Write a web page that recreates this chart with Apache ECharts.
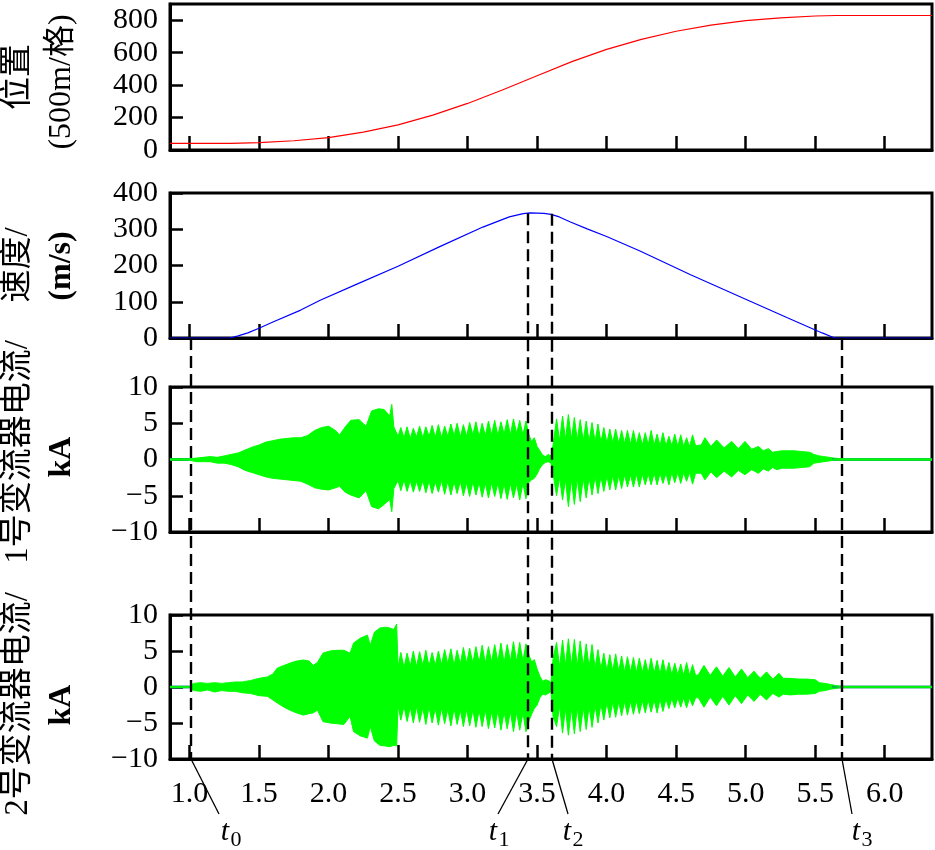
<!DOCTYPE html>
<html><head><meta charset="utf-8">
<script src="https://cdn.jsdelivr.net/npm/echarts@6/dist/echarts.min.js"></script>
<style>html,body{margin:0;padding:0;background:#fff}#c{width:935px;height:850px}</style>
</head><body><div id="c"></div>
<script>
// ---------- data ----------
const xTicks = [1.0, 1.5, 2.0, 2.5, 3.0, 3.5, 4.0, 4.5, 5.0, 5.5, 6.0];
const posTicks = [0, 200, 400, 600, 800];

const posT = [0.86, 1.30, 1.50, 1.75, 2.00, 2.25, 2.50, 2.75, 3.00, 3.25, 3.50, 3.75, 4.00, 4.25, 4.50, 4.75, 5.00, 5.25, 5.50, 5.65, 6.34];
const posV = [41, 41, 45, 57, 76, 110, 155, 215, 287, 370, 458, 545, 620, 682, 732, 770, 797, 815, 826, 829, 829];

const velT = [0.86, 1.29, 1.35, 1.42, 1.50, 1.60, 1.80, 1.94, 2.20, 2.50, 2.80, 3.11, 3.30, 3.40, 3.45, 3.55, 3.60, 3.66, 3.74, 3.86, 4.00, 4.24, 4.60, 5.00, 5.30, 5.55, 5.64, 6.34];
const velV = [0, 0, 6, 14, 27, 44, 77, 104, 148, 198, 252, 306, 334, 343, 345, 344, 341, 334, 320, 301, 280, 240, 175, 107, 56, 14, 0, 0];

// converter 1 current envelope (kA)
const i1T = [0.86, 1.00, 1.05, 1.10, 1.15, 1.20, 1.25, 1.30, 1.35, 1.40, 1.45, 1.50, 1.55, 1.60, 1.65, 1.70, 1.75, 1.80, 1.85, 1.90, 1.95, 2.00, 2.05, 2.08, 2.12, 2.16, 2.22, 2.27, 2.31, 2.36, 2.40, 2.44, 2.455, 2.47,
  2.50, 2.52, 2.543, 2.565, 2.588, 2.61, 2.633, 2.655, 2.678, 2.70, 2.723, 2.745, 2.768, 2.79, 2.813, 2.835, 2.858, 2.88, 2.903, 2.925, 2.948, 2.97, 2.993, 3.015, 3.038, 3.06, 3.083, 3.105, 3.128, 3.15, 3.173, 3.195, 3.218, 3.24, 3.263, 3.285, 3.308, 3.33, 3.353, 3.375, 3.398, 3.42,
  3.44, 3.46, 3.48, 3.50, 3.52, 3.54, 3.56, 3.58, 3.60,
  3.615, 3.64, 3.662, 3.683, 3.704, 3.725, 3.747, 3.768, 3.789, 3.81, 3.832, 3.853, 3.874, 3.895, 3.917, 3.938, 3.959, 3.98, 4.002, 4.023, 4.044, 4.065, 4.087, 4.108, 4.129, 4.15, 4.172, 4.193, 4.214, 4.235, 4.257, 4.278, 4.299, 4.32, 4.342, 4.363, 4.384, 4.405, 4.427, 4.448, 4.469, 4.49, 4.512, 4.533, 4.554, 4.575, 4.597, 4.618, 4.64,
  4.68, 4.707, 4.75, 4.791, 4.845, 4.899, 4.947, 4.995, 5.043, 5.091, 5.127, 5.163, 5.193, 5.223, 5.26, 5.30, 5.35, 5.40, 5.46, 5.49, 5.53, 5.56, 5.60, 5.63, 5.66, 5.70, 6.34];
const i1Up = [0.1, 0.1, 0.2, 0.3, 0.4, 0.3, 0.5, 0.7, 0.9, 1.3, 1.7, 2.0, 2.4, 2.6, 2.8, 2.9, 3.0, 3.0, 3.3, 4.0, 4.4, 4.6, 4.0, 3.4, 4.5, 5.4, 5.5, 4.6, 6.7, 7.0, 6.9, 6.0, 7.6, 4.5,
  3.2, 4.4, 3.0, 4.5, 2.9, 4.3, 3.1, 4.6, 3.0, 4.5, 3.2, 4.7, 3.1, 4.8, 3.0, 4.6, 3.2, 4.9, 3.3, 5.0, 3.1, 4.8, 3.2, 5.1, 3.4, 5.2, 3.2, 5.0, 3.3, 5.3, 3.4, 5.4, 3.3, 5.2, 3.5, 5.5, 3.4, 5.6, 3.6, 5.4, 3.4, 5.3,
  3.5, 2.5, 3.0, 1.8, 1.2, 0.6, 0.4, 0.7, 0.5,
  2.0, 5.6, 2.6, 6.0, 2.8, 6.2, 2.8, 5.8, 2.7, 5.5, 2.6, 5.3, 2.5, 5.1, 2.5, 4.9, 2.4, 4.4, 2.3, 4.2, 2.3, 4.2, 2.2, 4.0, 2.2, 4.0, 2.1, 4.0, 2.1, 3.7, 2.0, 3.7, 2.0, 4.0, 2.0, 3.5, 1.9, 3.7, 1.9, 3.2, 1.9, 3.5, 1.8, 3.4, 1.8, 3.0, 1.8, 3.4, 1.9,
  2.0, 3.0, 1.8, 2.7, 1.6, 2.5, 1.5, 2.5, 1.4, 1.8, 1.2, 1.5, 1.0, 1.1, 1.2, 1.2, 1.2, 1.1, 1.0, 0.7, 0.5, 0.4, 0.3, 0.2, 0.15, 0.1, 0.1];
const i1Lo = [-0.1, -0.1, -0.3, -0.3, -0.3, -0.5, -0.5, -0.7, -1.0, -1.5, -1.8, -2.1, -2.4, -2.6, -2.7, -2.8, -2.9, -3.0, -3.4, -3.9, -4.1, -4.2, -3.9, -3.7, -4.5, -4.9, -5.3, -4.3, -6.5, -6.8, -6.2, -5.5, -7.2, -4.0,
  -2.9, -4.3, -2.8, -4.4, -2.9, -4.5, -3.0, -4.4, -2.9, -4.6, -3.0, -4.7, -3.1, -4.5, -2.9, -4.8, -3.0, -4.9, -3.1, -4.7, -3.0, -5.0, -3.2, -5.1, -3.1, -4.9, -3.2, -5.2, -3.3, -5.3, -3.2, -5.1, -3.3, -5.4, -3.4, -5.5, -3.3, -5.3, -3.4, -5.6, -3.3, -5.4,
  -3.2, -2.8, -2.6, -2.0, -1.2, -0.7, -0.4, -0.3, -0.5,
  -2.0, -5.0, -2.5, -5.6, -2.8, -6.5, -2.8, -6.2, -2.7, -5.8, -2.6, -5.3, -2.5, -4.9, -2.4, -4.7, -2.4, -4.4, -2.3, -4.2, -2.2, -4.2, -2.2, -4.0, -2.1, -3.8, -2.1, -3.8, -2.0, -3.8, -2.0, -3.5, -2.0, -3.5, -1.9, -3.5, -1.9, -3.3, -1.9, -3.5, -1.8, -3.2, -1.8, -3.3, -1.8, -3.0, -1.8, -3.4, -1.9,
  -1.9, -2.8, -1.7, -2.5, -1.6, -2.4, -1.5, -2.1, -1.4, -1.9, -1.3, -1.6, -1.1, -1.4, -1.2, -1.2, -1.2, -1.1, -1.0, -0.5, -0.4, -0.3, -0.2, -0.1, -0.1, -0.1, -0.1];

// converter 2 current envelope (kA)
const i2T = [0.86, 1.00, 1.03, 1.08, 1.13, 1.18, 1.23, 1.28, 1.33, 1.38, 1.44, 1.50, 1.56, 1.60, 1.63, 1.68, 1.72, 1.77, 1.82, 1.86, 1.89, 1.92, 1.96, 2.01, 2.06, 2.11, 2.155, 2.18, 2.23, 2.28, 2.30, 2.33, 2.37, 2.41, 2.44, 2.47, 2.49,
  2.50, 2.52, 2.543, 2.565, 2.588, 2.61, 2.633, 2.655, 2.678, 2.70, 2.723, 2.745, 2.768, 2.79, 2.813, 2.835, 2.858, 2.88, 2.903, 2.925, 2.948, 2.97, 2.993, 3.015, 3.038, 3.06, 3.083, 3.105, 3.128, 3.15, 3.173, 3.195, 3.218, 3.24, 3.263, 3.285, 3.308, 3.33, 3.353, 3.375, 3.398, 3.42,
  3.44, 3.46, 3.48, 3.50, 3.52, 3.54, 3.56, 3.58, 3.60,
  3.615, 3.64, 3.662, 3.683, 3.704, 3.725, 3.747, 3.768, 3.789, 3.81, 3.832, 3.853, 3.874, 3.895, 3.917, 3.938, 3.959, 3.98, 4.002, 4.023, 4.044, 4.065, 4.087, 4.108, 4.129, 4.15, 4.172, 4.193, 4.214, 4.235, 4.257, 4.278, 4.299, 4.32, 4.342, 4.363, 4.384, 4.405, 4.427, 4.448, 4.469, 4.49, 4.512, 4.533, 4.554, 4.575, 4.597, 4.618, 4.64,
  4.66, 4.70, 4.745, 4.79, 4.835, 4.88, 4.925, 4.97, 5.015, 5.06, 5.105, 5.15, 5.195, 5.24, 5.27, 5.32, 5.38, 5.44, 5.50, 5.53, 5.57, 5.61, 5.65, 5.68, 6.34];
const i2Up = [0.1, 0.1, 0.5, 0.6, 0.5, 0.6, 0.5, 0.6, 0.7, 0.7, 0.9, 1.2, 1.4, 1.8, 2.6, 3.0, 3.3, 3.6, 3.75, 3.6, 3.0, 3.4, 4.7, 5.0, 5.1, 5.1, 4.7, 6.1, 6.8, 7.2, 5.8, 7.6, 8.2, 8.3, 8.2, 8.0, 8.75,
  2.8, 4.8, 2.7, 4.7, 2.9, 5.0, 2.8, 4.9, 3.0, 5.1, 2.9, 4.8, 3.0, 5.0, 3.1, 5.2, 3.2, 5.3, 3.0, 5.1, 3.2, 5.5, 3.3, 5.4, 3.3, 5.6, 3.4, 5.8, 3.3, 5.6, 3.5, 5.9, 3.5, 6.1, 3.4, 5.9, 3.6, 6.3, 3.5, 6.2, 3.6, 6.0,
  4.5, 3.5, 3.8, 2.5, 1.5, 0.8, 1.0, 0.9, 0.6,
  4.0, 6.2, 2.8, 6.5, 3.0, 6.7, 3.0, 6.6, 2.9, 6.4, 2.9, 6.0, 2.8, 5.9, 2.7, 5.2, 2.5, 4.7, 2.3, 4.5, 2.2, 4.6, 2.2, 4.3, 2.1, 4.2, 2.1, 4.1, 2.0, 4.0, 2.0, 3.8, 1.9, 4.0, 1.9, 3.7, 1.8, 3.8, 1.8, 3.4, 1.7, 3.3, 1.7, 3.2, 1.6, 3.4, 1.6, 3.1, 1.6,
  1.7, 3.0, 1.6, 2.8, 1.5, 2.7, 1.4, 2.5, 1.3, 2.2, 1.2, 2.1, 1.1, 1.9, 1.2, 1.2, 1.1, 1.1, 1.0, 0.6, 0.5, 0.35, 0.2, 0.1, 0.1];
const i2Lo = [-0.1, -0.1, -0.5, -0.6, -0.4, -0.7, -0.5, -0.6, -0.6, -0.8, -0.9, -1.2, -1.3, -1.8, -2.2, -2.8, -3.2, -3.6, -3.9, -3.7, -3.6, -3.2, -4.8, -5.0, -5.1, -5.2, -4.1, -6.2, -6.8, -7.1, -5.5, -7.5, -8.1, -8.2, -8.3, -8.1, -8.2,
  -2.6, -4.6, -2.7, -4.8, -2.8, -5.0, -2.7, -4.9, -2.9, -5.2, -2.8, -5.0, -3.0, -5.3, -2.9, -5.1, -3.1, -5.4, -3.0, -5.2, -3.2, -5.5, -3.1, -5.4, -3.2, -5.6, -3.3, -5.5, -3.2, -5.8, -3.4, -5.7, -3.3, -6.0, -3.5, -5.8, -3.4, -6.2, -3.5, -6.0, -3.6, -6.2,
  -4.8, -3.8, -3.0, -2.5, -1.5, -1.0, -1.1, -0.9, -0.6,
  -4.1, -5.5, -2.7, -6.4, -3.0, -6.7, -3.0, -6.5, -2.9, -6.2, -2.8, -5.9, -2.7, -5.6, -2.6, -5.0, -2.4, -4.6, -2.2, -4.3, -2.1, -4.2, -2.1, -4.0, -2.0, -3.9, -2.0, -3.8, -1.9, -3.7, -1.9, -3.6, -1.8, -3.5, -1.8, -3.6, -1.7, -3.4, -1.7, -3.0, -1.6, -2.9, -1.5, -2.8, -1.5, -2.9, -1.5, -2.6, -1.5,
  -1.5, -2.8, -1.4, -2.6, -1.3, -2.5, -1.2, -2.3, -1.1, -2.0, -1.0, -1.8, -0.9, -1.4, -1.0, -1.1, -1.0, -1.0, -0.9, -0.6, -0.5, -0.3, -0.2, -0.1, -0.1];

// event markers t0..t3 (time, velocity where the dashed line starts)
const markerT = [1.01, 3.433, 3.605, 5.69];
const markerVel = [0, 344, 343, 0];
const markerSub = ['0', '1', '2', '3'];

// ---------- chart ----------
const SERIF = '"Liberation Serif", "Times New Roman", serif';
const TITLEFONT = '"Liberation Serif", "Noto Sans CJK SC", serif';
const GREEN = '#00ff00';
const zip = (a, b) => a.map((v, i) => [v, b[i]]);
const minus = v => String(v).replace('-', '\u2212');

const grids = [
  { left: 170, right: 3, top: 4, height: 146 },
  { left: 170, right: 3, top: 193, height: 145 },
  { left: 170, right: 3, top: 387, height: 145 },
  { left: 170, right: 3, top: 615, height: 144 }
].map(g => Object.assign(g, { show: true, borderColor: '#000', borderWidth: 3, containLabel: false }));

const axisLine = { show: true, onZero: false, lineStyle: { color: '#000', width: 3 } };
const tickStyle = { color: '#000', width: 2.5 };
const labelBase = { color: '#000', fontFamily: SERIF, fontSize: 30 };

const xAxes = [0, 1, 2, 3].map(i => ({
  type: 'value', gridIndex: i, min: 0.86, max: 6.34,
  axisLine,
  axisTick: { show: true, inside: true, length: 14, lineStyle: tickStyle, customValues: xTicks },
  axisLabel: Object.assign({ show: i === 3, margin: 20, customValues: xTicks, formatter: v => v.toFixed(1) }, labelBase),
  splitLine: { show: false }
}));

const yAxes = [
  { type: 'value', gridIndex: 0, min: 0, max: 900,
    axisTick: { show: true, inside: true, length: 13, lineStyle: tickStyle, customValues: posTicks },
    axisLabel: Object.assign({ margin: 12, customValues: posTicks }, labelBase) },
  { type: 'value', gridIndex: 1, min: 0, max: 400, interval: 100,
    axisTick: { show: true, inside: true, length: 13, lineStyle: tickStyle },
    axisLabel: Object.assign({ margin: 12 }, labelBase) },
  { type: 'value', gridIndex: 2, min: -10, max: 10, interval: 5,
    axisTick: { show: true, inside: true, length: 13, lineStyle: tickStyle },
    axisLabel: Object.assign({ margin: 12, formatter: minus }, labelBase) },
  { type: 'value', gridIndex: 3, min: -10, max: 10, interval: 5,
    axisTick: { show: true, inside: true, length: 13, lineStyle: tickStyle },
    axisLabel: Object.assign({ margin: 12, formatter: minus }, labelBase) }
].map(a => Object.assign(a, { axisLine, splitLine: { show: false } }));

function lineSeries(idx, data, color, width, area) {
  const s = {
    type: 'line', xAxisIndex: idx, yAxisIndex: idx, data,
    showSymbol: false, symbol: 'none', animation: false, silent: true,
    lineStyle: { color, width }, clip: true
  };
  if (area) s.areaStyle = { color, opacity: 1, origin: 'auto' };
  return s;
}

// quiet (zero-current) stretches before t0 and after the train stops
const quietBefore = [[0.86, 0], [1.0, 0]];
const quietAfter = [[5.62, 0], [6.34, 0]];
const zeroLine = [[0.86, 0], [6.34, 0]];
function currentSeries(idx, T, up, lo) {
  return [
    lineSeries(idx, quietBefore, '#0000ff', 2.6, false),
    lineSeries(idx, quietAfter, '#0000ff', 2.6, false),
    lineSeries(idx, zip(T, up), GREEN, 1, true),
    lineSeries(idx, zip(T, lo), GREEN, 1, true),
    lineSeries(idx, zeroLine, GREEN, 1.6, false)
  ];
}

const series = [
  lineSeries(0, zip(posT, posV), '#ff0000', 1.2, false),
  lineSeries(1, zip(velT, velV), '#0000ff', 1.2, false)
].concat(currentSeries(2, i1T, i1Up, i1Lo), currentSeries(3, i2T, i2Up, i2Lo));

const chart = echarts.init(document.getElementById('c'), null, { renderer: 'canvas' });
chart.setOption({
  backgroundColor: '#fff',
  animation: false,
  grid: grids, xAxis: xAxes, yAxis: yAxes, series
});

// ---------- annotations placed through the axes ----------
const g = [];
const titles = [
  ['位置', '(500m/格)', 77, 82, false],
  ['速度/', '(m/s)', 265, 266, true],
  ['1号变流器电流/', 'kA', 452, 457, true],
  ['2号变流器电流/', 'kA', 704, 705, true]
];
const txt = font => ({ font, fill: '#000', align: 'center', verticalAlign: 'middle', textAlign: 'center', textVerticalAlign: 'middle' });
titles.forEach(t => {
  g.push({ type: 'text', x: 18, y: t[2], rotation: Math.PI / 2, z: 50,
    style: Object.assign(txt('33px ' + TITLEFONT), { text: t[0] }) });
  g.push({ type: 'text', x: 62, y: t[3], rotation: Math.PI / 2, z: 50,
    style: Object.assign(txt((t[4] ? 'bold ' : '') + '32px ' + TITLEFONT), { text: t[1] }) });
});

const bottom = chart.convertToPixel({ xAxisIndex: 3, yAxisIndex: 3 }, [1, -10])[1];
const leaderDx = [28, -30, 16, 10];
const labelDx = [34, -35, 15, 14];
markerT.forEach((t, i) => {
  const top = chart.convertToPixel({ xAxisIndex: 1, yAxisIndex: 1 }, [t, markerVel[i]]);
  const x = Math.round(top[0]);
  g.push({ type: 'line', z: 60, shape: { x1: x, y1: top[1], x2: x, y2: bottom },
    style: { stroke: '#000', lineWidth: 2.4, lineDash: [12, 6] } });
  g.push({ type: 'line', z: 60, shape: { x1: x, y1: bottom, x2: x + leaderDx[i], y2: bottom + 55 },
    style: { stroke: '#000', lineWidth: 1.3 } });
  g.push({ type: 'text', z: 60, x: x + labelDx[i], y: bottom + 73,
    style: Object.assign(txt('italic 30px ' + SERIF), { text: 't' }) });
  g.push({ type: 'text', z: 60, x: x + labelDx[i] + 11, y: bottom + 81,
    style: Object.assign(txt('22px ' + SERIF), { text: markerSub[i] }) });
});
chart.setOption({ graphic: g });
</script>
</body></html>
